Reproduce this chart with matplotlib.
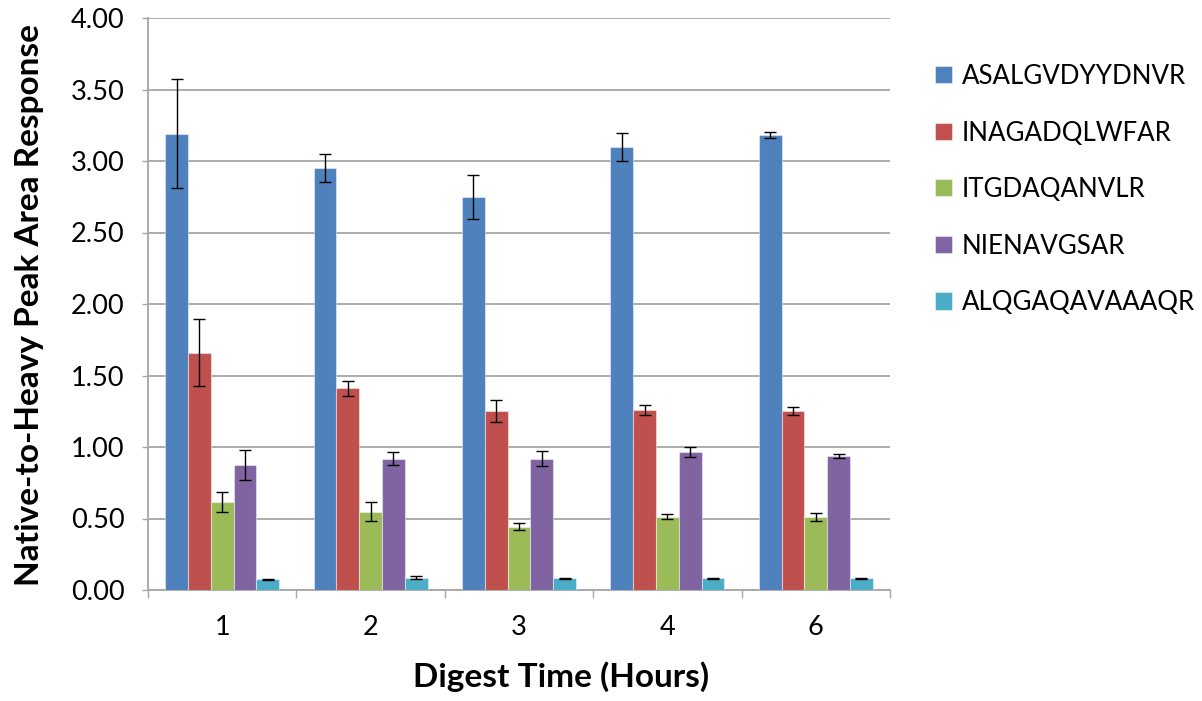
import numpy as np
import matplotlib
matplotlib.use("Agg")
import matplotlib.pyplot as plt

# Digest time groups (hours)
hours = ["1", "2", "3", "4", "6"]

peptides = ["ASALGVDYYDNVR", "INAGADQLWFAR", "ITGDAQANVLR", "NIENAVGSAR", "ALQGAQAVAAAQR"]

# Mean native-to-heavy peak area response per peptide, one value per digest time
asalgvdyydnvr = [3.19, 2.95, 2.75, 3.10, 3.18]
inagadqlwfar = [1.66, 1.41, 1.25, 1.26, 1.25]
itgdaqanvlr = [0.615, 0.547, 0.444, 0.512, 0.512]
nienavgsar = [0.872, 0.918, 0.919, 0.966, 0.936]
alqgaqavaaaqr = [0.075, 0.087, 0.082, 0.082, 0.082]

# Error bar half-widths
asalgvdyydnvr_err = [0.38, 0.10, 0.155, 0.098, 0.021]
inagadqlwfar_err = [0.235, 0.05, 0.078, 0.033, 0.028]
itgdaqanvlr_err = [0.068, 0.067, 0.022, 0.017, 0.027]
nienavgsar_err = [0.105, 0.047, 0.05, 0.033, 0.014]
alqgaqavaaaqr_err = [0.005, 0.008, 0.005, 0.003, 0.002]

means = [asalgvdyydnvr, inagadqlwfar, itgdaqanvlr, nienavgsar, alqgaqavaaaqr]
errors = [asalgvdyydnvr_err, inagadqlwfar_err, itgdaqanvlr_err, nienavgsar_err, alqgaqavaaaqr_err]
colors = ["#4F81BD", "#C0504D", "#9BBB59", "#8064A2", "#4BACC6"]

plt.rcParams["font.family"] = ["Lato", "DejaVu Sans"]

W, H = 1202, 701
fig = plt.figure(figsize=(W / 100, H / 100), dpi=100)
ax = fig.add_axes([148 / W, 1 - 590 / H, (890 - 148) / W, (590 - 18) / H])

n = len(peptides)
width = 1 / 6.5
x = np.arange(len(hours))
for i, (vals, errs, c, name) in enumerate(zip(means, errors, colors, peptides)):
    pos = x + (i - (n - 1) / 2) * width
    ax.bar(pos, vals, width, color=c, edgecolor=(1, 1, 1, 0.45), linewidth=0.8,
           label=name, zorder=3)
    ax.errorbar(pos, vals, yerr=errs, fmt="none", ecolor="black", elinewidth=1.0,
                capsize=4, capthick=1.0, zorder=4)

ax.set_xlim(-0.5, len(hours) - 0.5)
ax.set_ylim(0, 4.0)
yt = np.arange(0, 4.01, 0.5)
ax.set_yticks(yt)
ax.set_yticklabels([f"{v:.2f}" for v in yt])
ax.set_xticks(x)
ax.set_xticklabels(hours)
ax.set_xticks(np.arange(-0.5, len(hours), 1.0), minor=True)

grid_c = "#A6A6A6"
ax.yaxis.grid(True, color=grid_c, linewidth=1.3, zorder=0)
ax.set_axisbelow(True)
for side in ["top", "right"]:
    ax.spines[side].set_visible(False)
for side in ["left", "bottom"]:
    ax.spines[side].set_color(grid_c)
    ax.spines[side].set_linewidth(1.3)

ax.tick_params(axis="y", which="major", length=4, width=1, color=grid_c,
               labelsize=19.5, pad=13)
ax.tick_params(axis="x", which="major", length=0, labelsize=19.5, pad=18)
ax.tick_params(axis="x", which="minor", length=6, width=1, color=grid_c)

fig.text(30 / W, 1 - 305 / H, "Native-to-Heavy Peak Area Response", rotation=90,
         ha="center", va="center", fontsize=24, fontweight="bold")
fig.text(561 / W, 1 - 677 / H, "Digest Time (Hours)", ha="center", va="center",
         fontsize=24, fontweight="bold")

ax.legend(loc="upper left", bbox_to_anchor=(935 / W, 1 - 64 / H),
          bbox_transform=fig.transFigure, frameon=False, fontsize=18.6,
          handlelength=0.64, handleheight=0.64, handletextpad=0.4,
          labelspacing=1.22, borderaxespad=0, borderpad=0)

fig.savefig("out.png", dpi=100, facecolor="white")
